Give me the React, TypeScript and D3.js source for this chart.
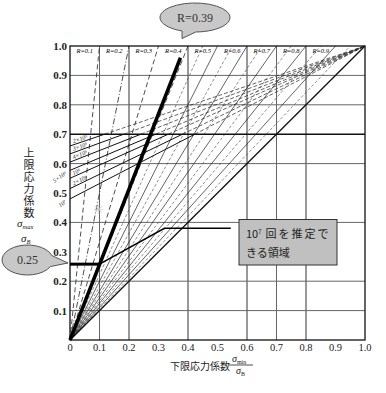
import { useEffect, useRef } from 'react';
import * as d3 from 'd3';

// Ratios R = σmin/σmax drawn from the origin
const rMain = [0.1, 0.2, 0.3, 0.4, 0.5, 0.6, 0.7, 0.8, 0.9];
const rHalf = [0.45, 0.55, 0.65, 0.75, 0.85, 0.95];
// Constant-life lines: start on the y axis and run to (1,1)
const lifeStart = [0.66, 0.633, 0.605, 0.577, 0.55, 0.515, 0.48];
const lifeLabels = ['2×10⁵', '3×10⁵', '4×10⁵', '5×10⁵', '10⁶', '2×10⁶', '10⁷'];
const lifeOutside = [false, false, false, true, false, false, true];
// Grid lines
const gridX = [0.1, 0.2, 0.4, 0.6, 0.7, 0.8];
const gridY = [0.1, 0.2, 0.4, 0.6, 0.8, 0.9];
const ticks = [0, 0.1, 0.2, 0.3, 0.4, 0.5, 0.6, 0.7, 0.8, 0.9, 1.0];
// Worked example
const exampleR = 0.39;
const exampleTop = 0.96;
const exampleMax = 0.258;
const regionPath = [[0.1, 0.258], [0.32, 0.38], [0.545, 0.38]];
const upperCap = 0.7;

const serif = '"Liberation Serif", "DejaVu Serif", serif';
const jp = '"Noto Sans CJK JP", sans-serif';

const Chart = () => {
    const svgRef = useRef(null);

    useEffect(() => {
        const svg = d3.select(svgRef.current);
        svg.selectAll('*').remove();

        const x = d3.scaleLinear().domain([0, 1]).range([70, 365]);
        const y = d3.scaleLinear().domain([0, 1]).range([340, 46]);
        const line = d3.line().x(d => x(d[0])).y(d => y(d[1]));

        svg.append('rect').attr('width', 386).attr('height', 393).attr('fill', 'white');

        // grid
        const g = svg.append('g');
        g.selectAll('.gx').data(gridX).enter().append('line')
            .attr('x1', d => x(d)).attr('x2', d => x(d))
            .attr('y1', y(0)).attr('y2', y(1))
            .attr('stroke', d => (d === 0.2 || d === 0.4 || d === 0.6 || d === 0.8) ? '#333' : '#666')
            .attr('stroke-width', 1);
        g.selectAll('.gy').data(gridY).enter().append('line')
            .attr('x1', x(0)).attr('x2', x(1))
            .attr('y1', d => y(d)).attr('y2', d => y(d))
            .attr('stroke', '#666').attr('stroke-width', 1);

        // R lines from the origin
        g.selectAll('.rh').data(rHalf).enter().append('path')
            .attr('d', r => line([[0, 0], [r, 1]]))
            .attr('fill', 'none').attr('stroke', '#444').attr('stroke-width', 0.6)
            .attr('stroke-dasharray', '3,2');
        g.selectAll('.rm').data(rMain).enter().append('path')
            .attr('d', r => line([[0, 0], [r, 1]]))
            .attr('fill', 'none').attr('stroke', '#222')
            .attr('stroke-width', r => r < 0.45 ? 0.8 : 0.7)
            .attr('stroke-dasharray', r => r === 0.2 ? '6,2,1,2' : r < 0.45 ? '5,3' : null);
        g.append('path').attr('d', line([[0, 0], [1, 1]]))
            .attr('stroke', '#111').attr('stroke-width', 1.3).attr('fill', 'none');

        // constant-life lines
        lifeStart.forEach((a, i) => {
            const xc = (upperCap - a) / (1 - a);
            g.append('path').attr('d', line([[0, a], [xc, upperCap]]))
                .attr('stroke', '#111').attr('stroke-width', 1).attr('fill', 'none');
            g.append('path').attr('d', line([[xc, upperCap], [1, 1]]))
                .attr('stroke', '#222').attr('stroke-width', 0.7).attr('fill', 'none')
                .attr('stroke-dasharray', '4,2');
            const ang = -Math.atan((1 - a) * 294 / 295) * 180 / Math.PI;
            if (lifeOutside[i]) {
                g.append('text')
                    .attr('transform', `translate(${x(0) - 3},${y(a) + 4}) rotate(-35)`)
                    .attr('text-anchor', 'end')
                    .style('font-family', serif).style('font-style', 'italic')
                    .style('font-size', '6px').style('fill', '#222').text(lifeLabels[i]);
            } else {
                const lx = 0.012;
                g.append('text')
                    .attr('transform', `translate(${x(lx)},${y(a + (1 - a) * lx) - 1.5}) rotate(${ang})`)
                    .style('font-family', serif).style('font-style', 'italic')
                    .style('font-size', '6px').style('fill', '#222').text(lifeLabels[i]);
            }
        });

        // 0.7 upper cap and frame
        g.append('line').attr('x1', x(0)).attr('x2', x(1))
            .attr('y1', y(upperCap)).attr('y2', y(upperCap))
            .attr('stroke', '#111').attr('stroke-width', 1.6);
        g.append('rect').attr('x', x(0)).attr('y', y(1))
            .attr('width', x(1) - x(0)).attr('height', y(0) - y(1))
            .attr('fill', 'none').attr('stroke', '#111').attr('stroke-width', 1.3);

        // R labels in the top row
        g.selectAll('.rl').data(rMain).enter().append('text')
            .attr('x', r => x(r - 0.05)).attr('y', y(0.975))
            .attr('text-anchor', 'middle')
            .style('font-family', serif).style('font-style', 'italic').style('font-size', '6.5px')
            .text(r => `R=${r}`);

        // faint mark
        g.append('text').attr('x', 98).attr('y', 214).attr('text-anchor', 'middle')
            .style('font-size', '13px').style('fill', '#c8c8c8').text('✳');

        // worked example
        g.append('path').attr('d', line([[0, 0], [exampleR * exampleTop, exampleTop]]))
            .attr('stroke', 'black').attr('stroke-width', 3.5).attr('fill', 'none');
        g.append('path').attr('d', line([[0, exampleMax], [exampleR * exampleMax, exampleMax]]))
            .attr('stroke', 'black').attr('stroke-width', 3).attr('fill', 'none');
        g.append('path').attr('d', line(regionPath))
            .attr('stroke', 'black').attr('stroke-width', 1.5).attr('fill', 'none');

        // axis tick labels
        g.selectAll('.yt').data(ticks.slice(1)).enter().append('text')
            .attr('x', 67).attr('y', d => y(d) + 4).attr('text-anchor', 'end')
            .style('font-family', serif).style('font-weight', 'bold').style('font-size', '11px')
            .style('fill', '#222').text(d => d.toFixed(1));
        g.selectAll('.xt').data(ticks).enter().append('text')
            .attr('x', d => x(d)).attr('y', 351).attr('text-anchor', 'middle')
            .style('font-family', serif).style('font-size', '10.5px')
            .style('fill', '#222').text(d => d === 0 ? '0' : d.toFixed(1));

        // y title, set vertically
        g.append('text').attr('x', 29).attr('y', 147)
            .style('writing-mode', 'vertical-rl').style('letter-spacing', '1px')
            .style('font-family', jp).style('font-size', '11px').style('fill', '#222')
            .text('上限応力係数');
        const sm = g.append('text').attr('x', 17).attr('y', 227)
            .style('font-family', serif).style('font-size', '11px').style('fill', '#222');
        sm.append('tspan').style('font-style', 'italic').text('σ');
        sm.append('tspan').attr('dy', 1.5).style('font-size', '6.5px').style('font-style', 'italic').text('max');
        const sb = g.append('text').attr('x', 21).attr('y', 242)
            .style('font-family', serif).style('font-size', '11px').style('fill', '#222');
        sb.append('tspan').style('font-style', 'italic').text('σ');
        sb.append('tspan').attr('dy', 1.5).style('font-size', '6.5px').style('font-style', 'italic').text('B');

        // x title
        g.append('text').attr('x', 170).attr('y', 370)
            .style('font-family', jp).style('font-size', '10px').style('fill', '#222')
            .text('下限応力係数');
        const nm = g.append('text').attr('x', 232).attr('y', 362)
            .style('font-family', serif).style('font-size', '10px').style('fill', '#222');
        nm.append('tspan').style('font-style', 'italic').text('σ');
        nm.append('tspan').attr('dy', 1.5).style('font-size', '6px').text('min');
        g.append('line').attr('x1', 229).attr('x2', 253).attr('y1', 365).attr('y2', 365)
            .attr('stroke', '#222').attr('stroke-width', 0.8);
        const dn = g.append('text').attr('x', 236).attr('y', 374)
            .style('font-family', serif).style('font-size', '10px').style('fill', '#222');
        dn.append('tspan').style('font-style', 'italic').text('σ');
        dn.append('tspan').attr('dy', 1.5).style('font-size', '6px').text('B');

        // callouts
        const callout = (cx, cy, rx, ry, t1, t2, tip, label, size) => {
            const p = t => [cx + rx * Math.cos(t), cy + ry * Math.sin(t)];
            const a = p(t1), b = p(t2);
            svg.append('path')
                .attr('d', `M${b[0]},${b[1]}L${tip[0]},${tip[1]}L${a[0]},${a[1]}A${rx},${ry} 0 1 0 ${b[0]},${b[1]}Z`)
                .attr('fill', '#c8c8c8').attr('stroke', '#444').attr('stroke-width', 0.9);
            svg.append('text').attr('x', cx).attr('y', cy + 4).attr('text-anchor', 'middle')
                .style('font-family', serif).style('font-size', size).style('fill', '#333').text(label);
        };
        callout(195, 17.5, 35, 14.5, 1.55, 1.95, [182, 38.5], 'R=0.39', '12px');
        callout(27.5, 260, 25.5, 15, -0.3, 0.45, [68, 263], '0.25', '12px');

        // region box
        svg.append('rect').attr('x', 239).attr('y', 219.5).attr('width', 98).attr('height', 45.5)
            .attr('fill', '#c0c0c0').attr('stroke', '#333').attr('stroke-width', 1);
        const t1 = svg.append('text').attr('x', 246).attr('y', 237.5)
            .style('font-family', jp).style('font-size', '11px').style('fill', '#222');
        t1.append('tspan').text('10');
        t1.append('tspan').attr('dy', -4).style('font-size', '6px').text('7');
        t1.append('tspan').attr('dy', 4).attr('dx', 4).style('letter-spacing', '2px').text('回を推定で');
        svg.append('text').attr('x', 246).attr('y', 257)
            .style('font-family', jp).style('font-size', '11px').style('fill', '#222')
            .text('きる領域');
    }, []);

    return (
        <svg ref={svgRef} width={386} height={393}
            style={{ position: 'absolute', left: 0, top: 0 }}></svg>
    );
};

export default function App() {
    return <Chart />;
}
